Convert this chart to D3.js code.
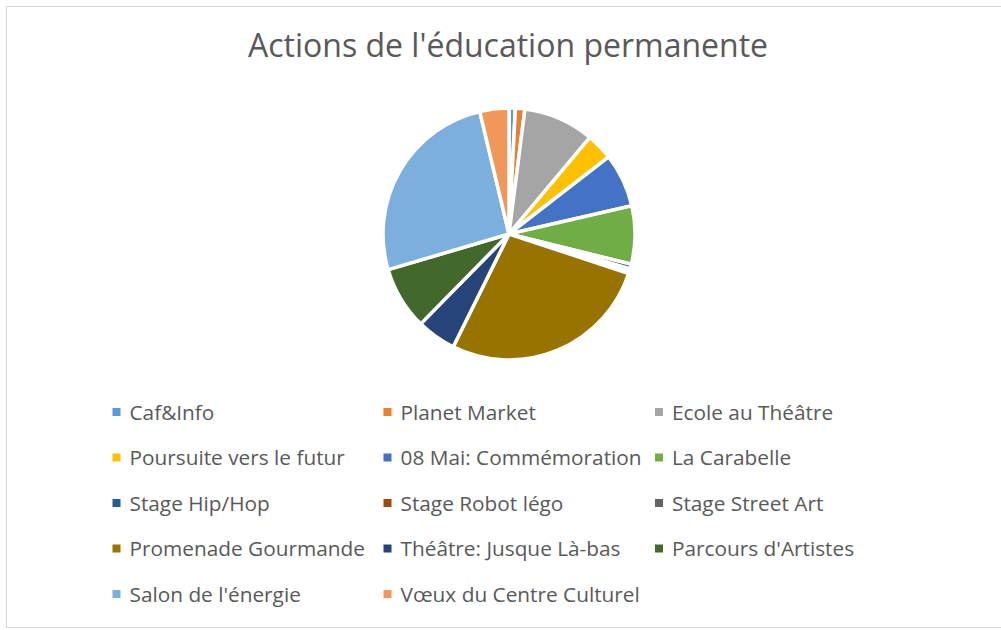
<!DOCTYPE html>
<html>
<head>
<meta charset="utf-8">
<script src="https://cdn.jsdelivr.net/npm/d3@7"></script>
<style>
  body { margin: 0; background: #fff; }
  svg { display: block; }
</style>
</head>
<body>
<svg id="chart" width="1001" height="630"></svg>
<script>
var categories = ['Caf&Info', 'Planet Market', 'Ecole au Théâtre', 'Poursuite vers le futur',
    '08 Mai: Commémoration', 'La Carabelle', 'Stage Hip/Hop', 'Stage Robot légo',
    'Stage Street Art', 'Promenade Gourmande', 'Théâtre: Jusque Là-bas', "Parcours d'Artistes",
    "Salon de l'énergie", 'Vœux du Centre Culturel']
var values = [0.8, 1.2, 9.0, 3.4, 6.8, 7.4, 0.6, 0.3, 0.3, 27.0, 5.0, 8.0, 25.6, 3.7]
var colors = ['#5B9BD5', '#ED7D31', '#A5A5A5', '#FFC000', '#4472C4', '#70AD47', '#255E91',
    '#9E480E', '#636363', '#997300', '#264478', '#43682B', '#7CAFDD', '#F1975A']

var svg = d3.select('#chart')

// chart frame
svg.append('rect')
    .attr('x', 6.5)
    .attr('y', 6.5)
    .attr('width', 1000)
    .attr('height', 621)
    .style('fill', '#fff')
    .style('stroke', '#d9d9d9')
    .style('stroke-width', 1)

svg.append('text')
    .attr('x', 508)
    .attr('y', 57)
    .attr('text-anchor', 'middle')
    .style('font-family', 'Open Sans')
    .style('font-size', '32px')
    .style('fill', '#595959')
    .text("Actions de l'éducation permanente")

var cx = 509, cy = 234, radius = 126

var pie = d3.pie().sort(null).value(function(d) {
    return d.value
})
var arc = d3.arc().innerRadius(0).outerRadius(radius)

var data = categories.map(function(c, i) {
    return { name: c, value: values[i], color: colors[i] }
})

svg.append('g')
    .attr('transform', 'translate(' + cx + ',' + cy + ')')
    .selectAll('path')
    .data(pie(data))
    .enter()
    .append('path')
    .attr('d', arc)
    .style('fill', function(d) {
        return d.data.color
    })
    .style('stroke', '#fff')
    .style('stroke-width', 3.5)
    .style('stroke-linejoin', 'round')

// legend: three columns, five rows
var colX = [112.5, 383.5, 655]
var rowY = d3.range(5).map(function(i) {
    return 412 + i * 45.5
})

var item = svg.append('g').selectAll('g')
    .data(data)
    .enter()
    .append('g')
    .attr('transform', function(d, i) {
        return 'translate(' + colX[i % 3] + ',' + rowY[Math.floor(i / 3)] + ')'
    })

item.append('rect')
    .attr('x', 0)
    .attr('y', -4)
    .attr('width', 8)
    .attr('height', 8)
    .style('fill', function(d) {
        return d.color
    })

item.append('text')
    .attr('x', 17)
    .attr('y', 0)
    .attr('dy', '0.37em')
    .style('font-family', 'Open Sans')
    .style('font-size', '20.8px')
    .style('fill', '#595959')
    .text(function(d) {
        return d.name
    })
</script>
</body>
</html>
